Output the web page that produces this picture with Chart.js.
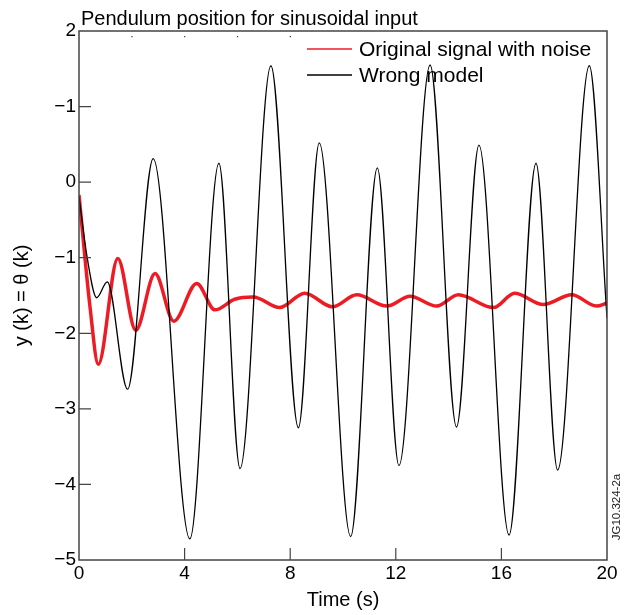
<!DOCTYPE html>
<html>
<head>
<meta charset="utf-8">
<script src="https://cdn.jsdelivr.net/npm/chart.js@4.4.1/dist/chart.umd.min.js"></script>
<style>
  body { margin: 0; background: #fff }
  #wrap { width: 629px; height: 615px }
</style>
</head>
<body>
<div id="wrap"><canvas id="c" width="629" height="615"></canvas></div>
<script>
// wrong model response (peaks / troughs)
const modelT = [0, 0.31, 0.67, 1.07, 1.84, 2.81, 4.2, 5.3, 6.1, 7.27, 8.31, 9.1, 10.29, 11.3, 12.12, 13.3, 14.3, 15.15, 16.29, 17.31, 18.13, 19.33, 20]
const modelY = [-0.19, -1.0, -1.53, -1.32, -2.74, 0.31, -4.72, 0.25, -3.79, 1.54, -3.25, 0.52, -4.69, 0.19, -3.75, 1.55, -3.24, 0.49, -4.67, 0.25, -3.81, 1.54, -1.8]

// measured signal (noisy band centre)
const signalT = [0, 0.42, 0.73, 1.47, 2.15, 2.88, 3.59, 4.46, 5.15, 5.9, 6.6, 7.6, 8.55, 9.6, 10.52, 11.66, 12.54, 13.55, 14.37, 15.7, 16.5, 17.59, 18.66, 19.6, 20]
const signalY = [-0.17, -1.66, -2.41, -1.01, -1.96, -1.21, -1.84, -1.34, -1.69, -1.55, -1.52, -1.66, -1.47, -1.65, -1.49, -1.64, -1.51, -1.64, -1.49, -1.66, -1.47, -1.62, -1.49, -1.64, -1.6]

const xTicks = [0, 4, 8, 12, 16, 20]
const yTickLabels = { 2: '2', 1: '\u22121', 0: '0', '-1': '\u22121', '-2': '\u22122', '-3': '\u22123', '-4': '\u22124', '-5': '\u22125' }
const topDots = [2, 4, 6, 8]

const FONT = "'Liberation Sans', Arial, sans-serif"
const RED = 'rgb(237,28,36)'

const toPts = (ts, ys) => ts.map((t, i) => ({ x: t, y: ys[i] }))

const legendItems = [
  { label: 'Original signal with noise', color: RED },
  { label: 'Wrong model', color: '#000' }
]

const decorations = {
  id: 'decorations',
  afterDraw(chart) {
    const { ctx, chartArea: a, scales: { x, y } } = chart
    ctx.save()
    ctx.strokeStyle = '#444'
    ctx.lineWidth = 1.5
    ctx.strokeRect(a.left, a.top, a.right - a.left, a.bottom - a.top)

    // inward ticks
    ctx.lineWidth = 1.2
    ctx.beginPath()
    for (let v = -4; v <= 1; v++) {
      const py = y.getPixelForValue(v)
      ctx.moveTo(a.left, py); ctx.lineTo(a.left + 12, py)
    }
    for (const v of xTicks.slice(1, -1)) {
      const px = x.getPixelForValue(v)
      ctx.moveTo(px, a.bottom); ctx.lineTo(px, a.bottom - 12)
    }
    ctx.stroke()
    ctx.fillStyle = '#333'
    for (const v of topDots) ctx.fillRect(x.getPixelForValue(v) - 0.5, a.top + 5, 1.2, 1.2)

    // title
    ctx.fillStyle = '#000'
    ctx.font = '20px ' + FONT
    ctx.textBaseline = 'alphabetic'
    ctx.textAlign = 'left'
    ctx.fillText('Pendulum position for sinusoidal input', 81, 25)

    // legend
    ctx.font = '21px ' + FONT
    ctx.textBaseline = 'middle'
    legendItems.forEach((it, i) => {
      const ly = 49 + i * 26
      ctx.strokeStyle = it.color
      ctx.lineWidth = 1.5
      ctx.beginPath(); ctx.moveTo(307, ly); ctx.lineTo(352, ly); ctx.stroke()
      ctx.fillText(it.label, 359, ly + 1)
    })

    // figure id
    ctx.translate(617, 507)
    ctx.rotate(-Math.PI / 2)
    ctx.font = '11.5px ' + FONT
    ctx.textAlign = 'center'
    ctx.fillStyle = '#222'
    ctx.fillText('JG10.324-2a', 0, 0)
    ctx.restore()
  }
}

new Chart(document.getElementById('c'), {
  type: 'line',
  data: {
    datasets: [
      { label: 'Wrong model', data: toPts(modelT, modelY), borderColor: '#000', borderWidth: 1.3, order: 0 },
      { label: 'Original signal with noise', data: toPts(signalT, signalY), borderColor: RED, borderWidth: 3.5, order: 1 }
    ]
  },
  options: {
    responsive: false,
    animation: false,
    layout: { padding: { top: 31, right: 22, left: 0, bottom: 0 } },
    elements: { point: { radius: 0 }, line: { cubicInterpolationMode: 'monotone' } },
    plugins: { legend: { display: false }, tooltip: { enabled: false } },
    scales: {
      x: {
        type: 'linear', min: 0, max: 20,
        afterBuildTicks: s => { s.ticks = xTicks.map(v => ({ value: v })) },
        afterFit: s => { s.height = 55 },
        grid: { display: false, drawTicks: false },
        border: { display: false },
        ticks: { padding: 2, color: '#000', font: { family: FONT, size: 19 }, maxRotation: 0 },
        title: { display: true, text: 'Time (s)', color: '#000', font: { family: FONT, size: 20 }, padding: { top: 0, bottom: 3 } }
      },
      y: {
        min: -5, max: 2,
        afterFit: s => { s.width = 79 },
        grid: { display: false, drawTicks: false },
        border: { display: false },
        ticks: { stepSize: 1, padding: 3, color: '#000', font: { family: FONT, size: 19 }, callback: v => yTickLabels[v] },
        title: { display: true, text: 'y (k) = \u03b8 (k)', color: '#000', font: { family: FONT, size: 20 }, padding: { top: 10, bottom: 0 } }
      }
    }
  },
  plugins: [decorations]
})
</script>
</body>
</html>
